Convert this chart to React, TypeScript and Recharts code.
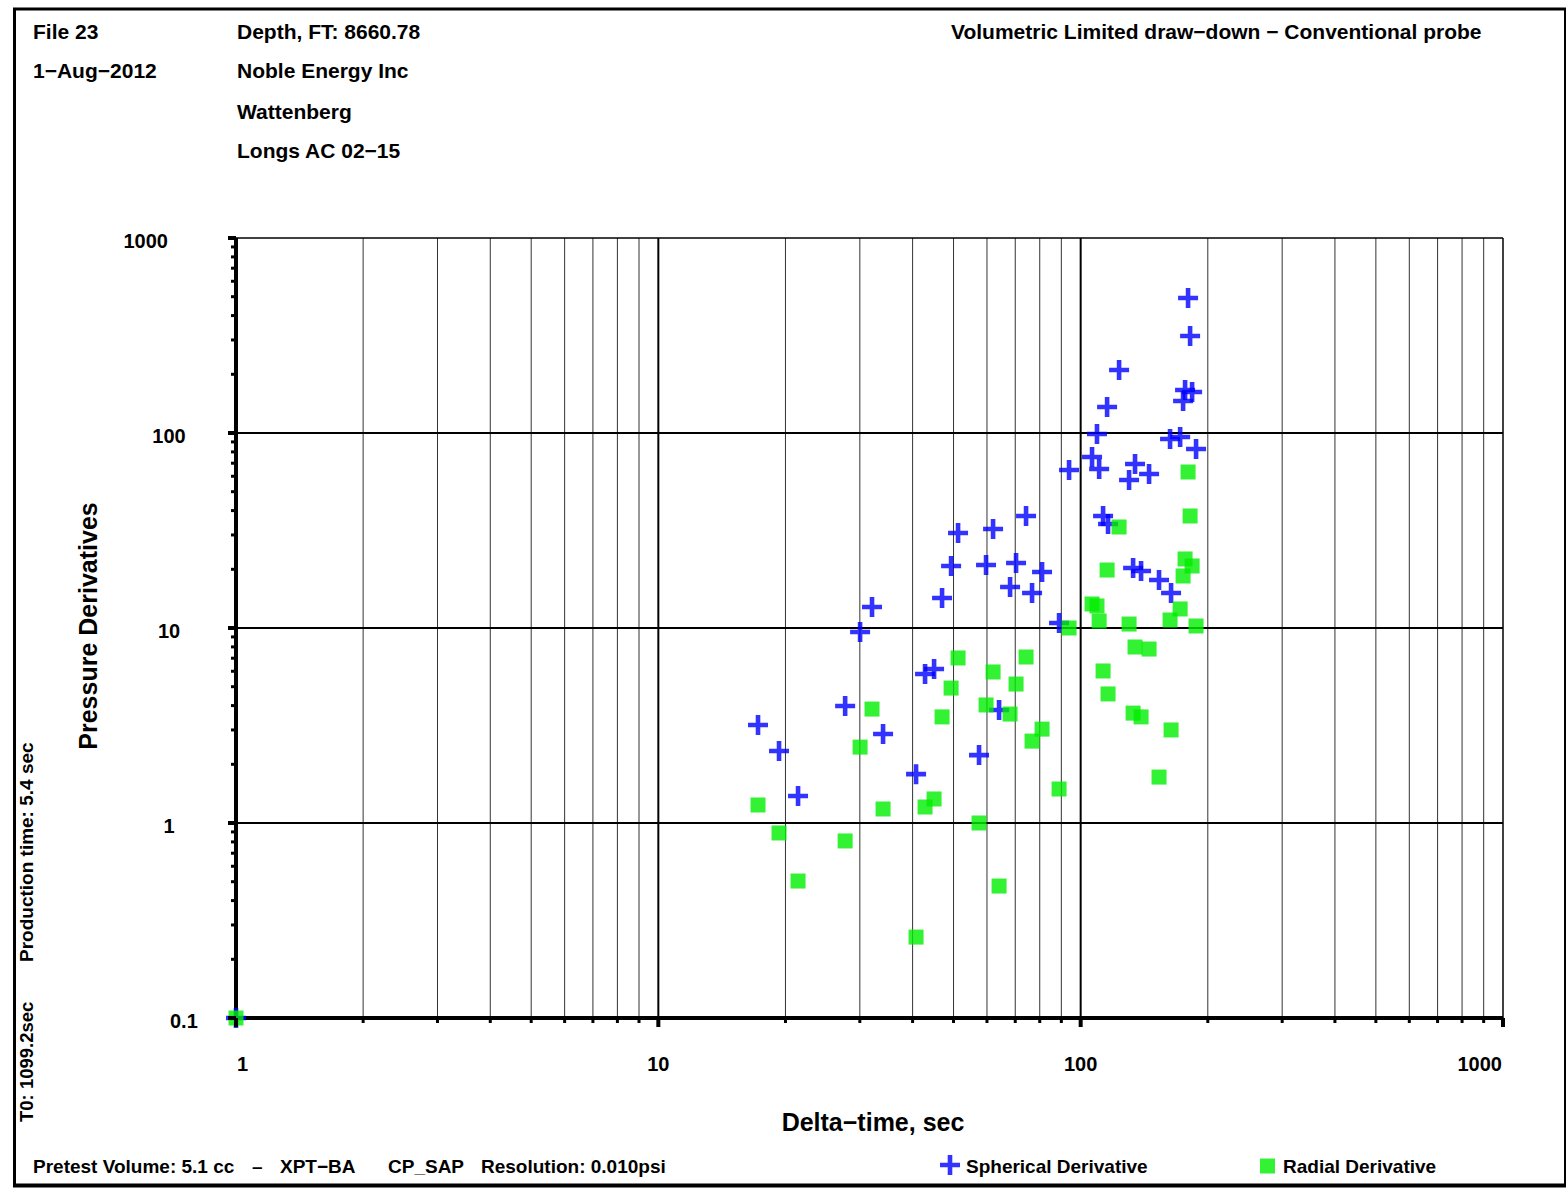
import React from 'react';
import { ScatterChart, Scatter, XAxis, YAxis, ReferenceLine } from 'recharts';

// delta-time (sec), one sample per row, both derivatives share it
const DELTA_T = [
  1, 17.22, 19.31, 21.42, 27.69, 30.04, 32.06, 34.05, 40.76, 42.81, 44.97, 46.97,
  49.34, 51.25, 57.46, 59.7, 62.03, 64.09, 68.05, 70.31, 74.25, 76.72, 81.02, 88.89,
  93.87, 106.4, 109.3, 110.6, 113.0, 115.5, 116.1, 123.3, 130.2, 133.1, 134.5, 139.0,
  145.2, 153.3, 162.8, 163.7, 172.0, 174.8, 176.7, 179.6, 181.6, 183.6, 187.6,
];
const SPHERICAL = [
  0.1, 3.18, 2.34, 1.375, 3.98, 9.54, 12.81, 2.86, 1.78, 5.81, 6.16, 14.25,
  20.8, 30.71, 2.23, 21.04, 32.19, 3.8, 16.23, 21.54, 37.53, 15.12, 19.38, 10.61,
  64.6, 75.3, 98.8, 65.4, 37.53, 135.9, 34.15, 210.4, 57.4, 20.31, 69.3, 19.6,
  61.6, 17.63, 93.2, 15.12, 95.4, 145.9, 166.2, 492.5, 314.4, 162.3, 82.8,
];
const RADIAL = [
  0.1, 1.237, 0.889, 0.504, 0.809, 2.45, 3.84, 1.18, 0.26, 1.208, 1.328, 3.5,
  4.92, 7.02, 1.0, 4.03, 5.95, 0.475, 3.62, 5.16, 7.1, 2.63, 3.03, 1.494,
  10.0, 13.28, 12.97, 10.86, 6.02, 19.83, 4.59, 32.96, 10.48, 3.66, 7.99, 3.5,
  7.8, 1.72, 10.99, 3.0, 12.52, 18.48, 22.59, 63.1, 37.53, 20.8, 10.24,
];

const FONT = '"Liberation Sans", Arial, Helvetica, sans-serif';

function logTicks(lo: number, hi: number) {
  const out: number[] = [];
  for (let d = lo; d < hi * 0.999; d *= 10) {
    for (let m = 1; m < 10; m++) out.push(+(d * m).toPrecision(3));
  }
  out.push(hi);
  return out;
}
const isDecade = (v: number) => Math.abs(Math.log10(v) - Math.round(Math.log10(v))) < 1e-6;

const X_TICKS = logTicks(1, 1000);
const Y_TICKS = logTicks(0.1, 1000);
const X_GRID = X_TICKS.filter((v) => v > 1 && v < 1000);
const Y_GRID = [1, 10, 100];

const XTick = (p: any) => {
  const { x, y, payload } = p;
  const v = payload.value;
  const major = isDecade(v);
  const first = v === X_TICKS[0];
  const last = v === X_TICKS[X_TICKS.length - 1];
  return (
    <g>
      <line x1={x} x2={x} y1={y} y2={y + (major ? 9 : 5)} stroke="#000" strokeWidth={major ? 4 : 3} />
      {major && (
        <text
          x={first ? x + 1 : last ? x - 1 : x}
          y={y + 53}
          textAnchor={first ? 'start' : last ? 'end' : 'middle'}
          fontFamily={FONT}
          fontWeight="bold"
          fontSize={20}
          fill="#000"
        >
          {String(v)}
        </text>
      )}
    </g>
  );
};

const YTick = (p: any) => {
  const { x, y, payload } = p;
  const v = payload.value;
  const major = isDecade(v);
  const first = v === Y_TICKS[0];
  const last = v === Y_TICKS[Y_TICKS.length - 1];
  return (
    <g>
      <line x1={x - (major ? 8 : 5)} x2={x} y1={y} y2={y} stroke="#000" strokeWidth={major ? 4 : 3} />
      {major && (
        <text
          x={first ? x - 66 : last ? x - 68 : x - 67}
          y={y + 10}
          textAnchor={first ? 'start' : last ? 'end' : 'middle'}
          fontFamily={FONT}
          fontWeight="bold"
          fontSize={20}
          fill="#000"
        >
          {String(v)}
        </text>
      )}
    </g>
  );
};

const PlusMark = (p: any) => {
  const { cx, cy } = p;
  if (cx == null || cy == null) return null;
  const a = 10, b = 2.3;
  const d = `M${cx - a},${cy - b}H${cx - b}V${cy - a}H${cx + b}V${cy - b}H${cx + a}V${cy + b}H${cx + b}V${cy + a}H${cx - b}V${cy + b}H${cx - a}Z`;
  return <path d={d} fill="#0000ff" fillOpacity={0.8} />;
};

const SquareMark = (p: any) => {
  const { cx, cy } = p;
  if (cx == null || cy == null) return null;
  return <rect x={cx - 7.5} y={cy - 7.5} width={15} height={15} fill="#00ee00" fillOpacity={0.8} />;
};

const txt = { fontFamily: FONT, fontWeight: 'bold' as const, fill: '#000' };

export default function App() {
  const sph = DELTA_T.map((t, i) => ({ t, v: SPHERICAL[i] }));
  const rad = DELTA_T.map((t, i) => ({ t, v: RADIAL[i] }));

  return (
    <div style={{ position: 'absolute', left: 0, top: 0, width: 1567, height: 1194, background: '#fff' }}>
      <ScatterChart width={1567} height={1194} margin={{ top: 238, right: 64, bottom: 116, left: 156 }}>
        <XAxis
          dataKey="t"
          type="number"
          scale="log"
          domain={[1, 1000]}
          ticks={X_TICKS}
          interval={0}
          height={60}
          tickSize={0}
          tickMargin={0}
          tickLine={false}
          tick={XTick}
          axisLine={{ stroke: '#000', strokeWidth: 4 }}
        />
        <YAxis
          dataKey="v"
          type="number"
          scale="log"
          domain={[0.1, 1000]}
          ticks={Y_TICKS}
          interval={0}
          width={80}
          tickSize={0}
          tickMargin={0}
          tickLine={false}
          tick={YTick}
          axisLine={{ stroke: '#000', strokeWidth: 4 }}
        />
        {X_GRID.map((v) => (
          <ReferenceLine key={'gx' + v} x={v} stroke={isDecade(v) ? '#000' : '#333'} strokeWidth={isDecade(v) ? 2 : 1} />
        ))}
        {Y_GRID.map((v) => (
          <ReferenceLine key={'gy' + v} y={v} stroke="#000" strokeWidth={2} />
        ))}
        <ReferenceLine y={1000} stroke="#000" strokeWidth={1.5} />
        <ReferenceLine x={1000} stroke="#000" strokeWidth={1.5} />
        <Scatter name="Spherical Derivative" data={sph} shape={PlusMark} isAnimationActive={false} />
        <Scatter name="Radial Derivative" data={rad} shape={SquareMark} isAnimationActive={false} />
      </ScatterChart>

      <svg width={1567} height={1194} style={{ position: 'absolute', left: 0, top: 0, pointerEvents: 'none' }}>
        {/* frame */}
        <line x1={14.5} x2={14.5} y1={8} y2={1187} stroke="#000" strokeWidth={3} />
        <line x1={13} x2={1566} y1={9} y2={9} stroke="#000" strokeWidth={3} />
        <line x1={1565} x2={1565} y1={8} y2={1187} stroke="#000" strokeWidth={2} />
        <line x1={13} x2={1566} y1={1185.5} y2={1185.5} stroke="#000" strokeWidth={4} />

        {/* header */}
        <g {...txt} fontSize={21}>
          <text x={33} y={39}>File 23</text>
          <text x={33} y={78}>1−Aug−2012</text>
          <text x={237} y={39}>Depth, FT: 8660.78</text>
          <text x={237} y={78}>Noble Energy Inc</text>
          <text x={237} y={119}>Wattenberg</text>
          <text x={237} y={158}>Longs AC 02−15</text>
          <text x={951} y={39}>Volumetric Limited draw−down − Conventional probe</text>
        </g>

        {/* axis titles */}
        <text {...txt} fontSize={25} x={873} y={1131} textAnchor="middle">Delta−time, sec</text>
        <text {...txt} fontSize={25} textAnchor="middle" transform="translate(97,626) rotate(-90)">Pressure Derivatives</text>

        {/* side notes */}
        <text {...txt} fontSize={19} transform="translate(33,962) rotate(-90)">Production time: 5.4 sec</text>
        <text {...txt} fontSize={18.5} transform="translate(33,1122) rotate(-90)">T0: 1099.2sec</text>

        {/* footer */}
        <g {...txt} fontSize={19}>
          <text x={33} y={1173}>Pretest Volume: 5.1 cc</text>
          <text x={252} y={1173}>–</text>
          <text x={280} y={1173}>XPT−BA</text>
          <text x={388} y={1173}>CP_SAP</text>
          <text x={481} y={1173}>Resolution: 0.010psi</text>
        </g>

        {/* legend */}
        <PlusMark cx={950} cy={1165} />
        <text {...txt} fontSize={19} x={966} y={1173}>Spherical Derivative</text>
        <SquareMark cx={1267.5} cy={1166} />
        <text {...txt} fontSize={19} x={1283} y={1173}>Radial Derivative</text>
      </svg>
    </div>
  );
}
